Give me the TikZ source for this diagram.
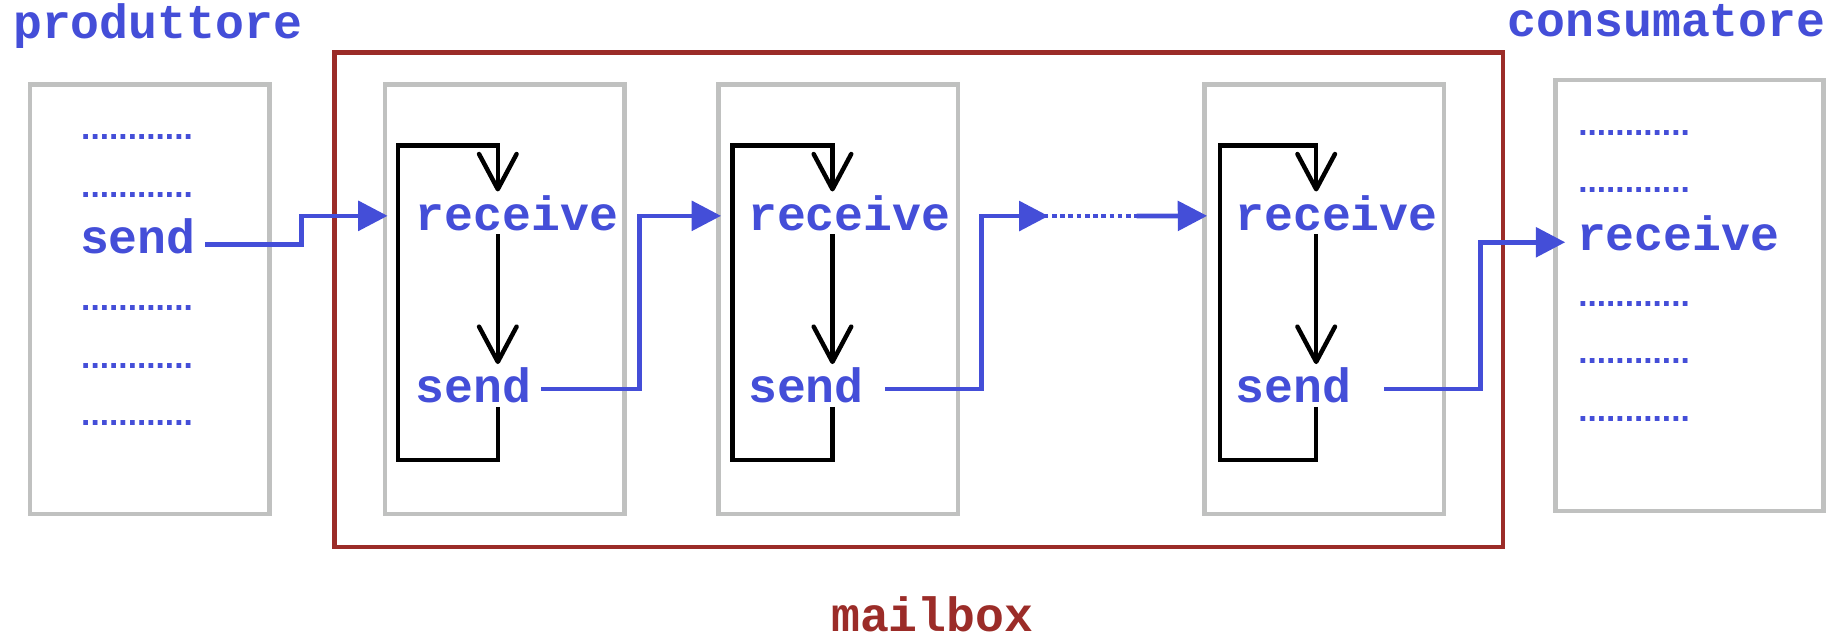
\documentclass[tikz,border=0pt]{standalone}
\usepackage{fontspec}
\setmonofont{Liberation Mono}
\setsansfont{Liberation Sans}
\usetikzlibrary{positioning,arrows.meta}
\definecolor{msgblue}{RGB}{68,78,216}
\definecolor{mailred}{RGB}{155,44,40}
\definecolor{framegray}{RGB}{192,193,192}

\begin{document}
\begin{tikzpicture}[x=1pt, y=-1pt,
  panel/.style={rectangle, draw=framegray, line width=3.8pt, inner sep=0pt,
                minimum width=204pt, minimum height=366pt},
  mailframe/.style={rectangle, draw=mailred, line width=4pt, inner sep=0pt},
  word/.style={anchor=base west, inner xsep=8pt, inner ysep=3pt, text=msgblue,
               font=\ttfamily\bfseries\fontsize{41}{41}\selectfont},
  title/.style={word, inner sep=0pt},
  dotrow/.style={inner sep=0pt, text height=4pt, text depth=0pt, text=msgblue,
                 font=\sffamily\bfseries\fontsize{28.5}{28.5}\selectfont},
  flow/.style={draw=msgblue, line width=4pt, shorten >=-4pt,
               -{Triangle[length=25pt,width=25pt]}},
  backline/.style={draw=black, line width=3.8pt,
                   -{Straight Barb[length=30pt,width=32pt,round]}}
]
  \useasboundingbox (0,0) rectangle (1568,544);

  % mailbox frame and the three forwarding stages
  \node[mailframe, minimum width=995pt, minimum height=421pt] (mbox) at (782.5,255.5) {};
  \node[text=mailred, font=\ttfamily\bfseries\fontsize{41}{41}\selectfont,
        anchor=base, inner sep=0pt] (mlbl) at (794,538) {mailbox};

  \node[panel] (prod)  at (127.5,255) {};
  \node[panel] (stg1)  at (430,255) {};
  \node[panel] (stg2)  at (714,255) {};
  \node[panel] (stg3)  at (1128,255) {};
  \node[panel, minimum width=228pt, minimum height=367pt] (cons) at (1439,251.5) {};

  \node[title] (plbl) at (11,33) {produttore};
  \node[title, anchor=base east] (clbl) at (1555,31) {consumatore};

  % producer process
  \node[dotrow, anchor=base west] (pd1) at (69,119) {............};
  \node[dotrow, below=44.5pt of pd1] (pd2) {............};
  \node[dotrow, below=92.5pt of pd2] (pd3) {............};
  \node[dotrow, below=44.5pt of pd3] (pd4) {............};
  \node[dotrow, below=44.5pt of pd4] (pd5) {............};
  \node[word] (psend) at (60,216) {send};

  % consumer process
  \node[dotrow, anchor=base west] (cd1) at (1344,115) {............};
  \node[dotrow, below=44.5pt of cd1] (cd2) {............};
  \node[dotrow, below=92.5pt of cd2] (cd3) {............};
  \node[dotrow, below=44.5pt of cd3] (cd4) {............};
  \node[dotrow, below=44.5pt of cd4] (cd5) {............};
  \node[word] (crecv) at (1335,213) {receive};

  % receive/send pairs
  \node[word] (r1) at (346,196) {receive};
  \node[word] (s1) at (346,343) {send};
  \node[word] (r2) at (629,196) {receive};
  \node[word] (s2) at (629,343) {send};
  \node[word] (r3) at (1044,196) {receive};
  \node[word] (s3) at (1044,343) {send};

  % loop of each stage
  \coordinate (k1) at (424,124);  \coordinate (b1) at (339,392);
  \coordinate (k2) at (709,124);  \coordinate (b2) at (624,392);
  \coordinate (k3) at (1121,124); \coordinate (b3) at (1039,392);

  \draw[backline] (s1.south -| k1) |- (b1) |- (k1) -- (r1.north -| k1);
  \draw[backline] (r1.south -| k1) -- (s1.north -| k1);
  \draw[backline] (s2.south -| k2) |- (b2) |- (k2) -- (r2.north -| k2);
  \draw[backline] (r2.south -| k2) -- (s2.north -| k2);
  \draw[backline] (s3.south -| k3) |- (b3) |- (k3) -- (r3.north -| k3);
  \draw[backline] (r3.south -| k3) -- (s3.north -| k3);

  % messages passed along the chain
  \coordinate (gapL) at (889,184);
  \coordinate (gapR) at (968,184);

  \draw[flow] ([yshift=-7pt]psend.east) -- ++(82,0) |- ([yshift=-2.5pt]stg1.west |- r1);
  \draw[flow] ([yshift=-3pt]s1.east) -- ++(84,0) |- ([yshift=-2.5pt]stg2.west |- r2);
  \draw[flow] ([xshift=10pt,yshift=-3pt]s2.east) -- ++(82,0) |- (gapL);
  \draw[draw=msgblue, line width=4pt, dash pattern=on 4pt off 3pt] (gapL) -- (gapR);
  \draw[flow] (gapR) -- ([yshift=-2.5pt]stg3.west |- r3);
  \draw[flow, shorten >=-10pt] ([xshift=20pt,yshift=-3pt]s3.east) -- ++(82,0) |- ([yshift=-8pt]cons.west |- crecv);
\end{tikzpicture}
\end{document}
